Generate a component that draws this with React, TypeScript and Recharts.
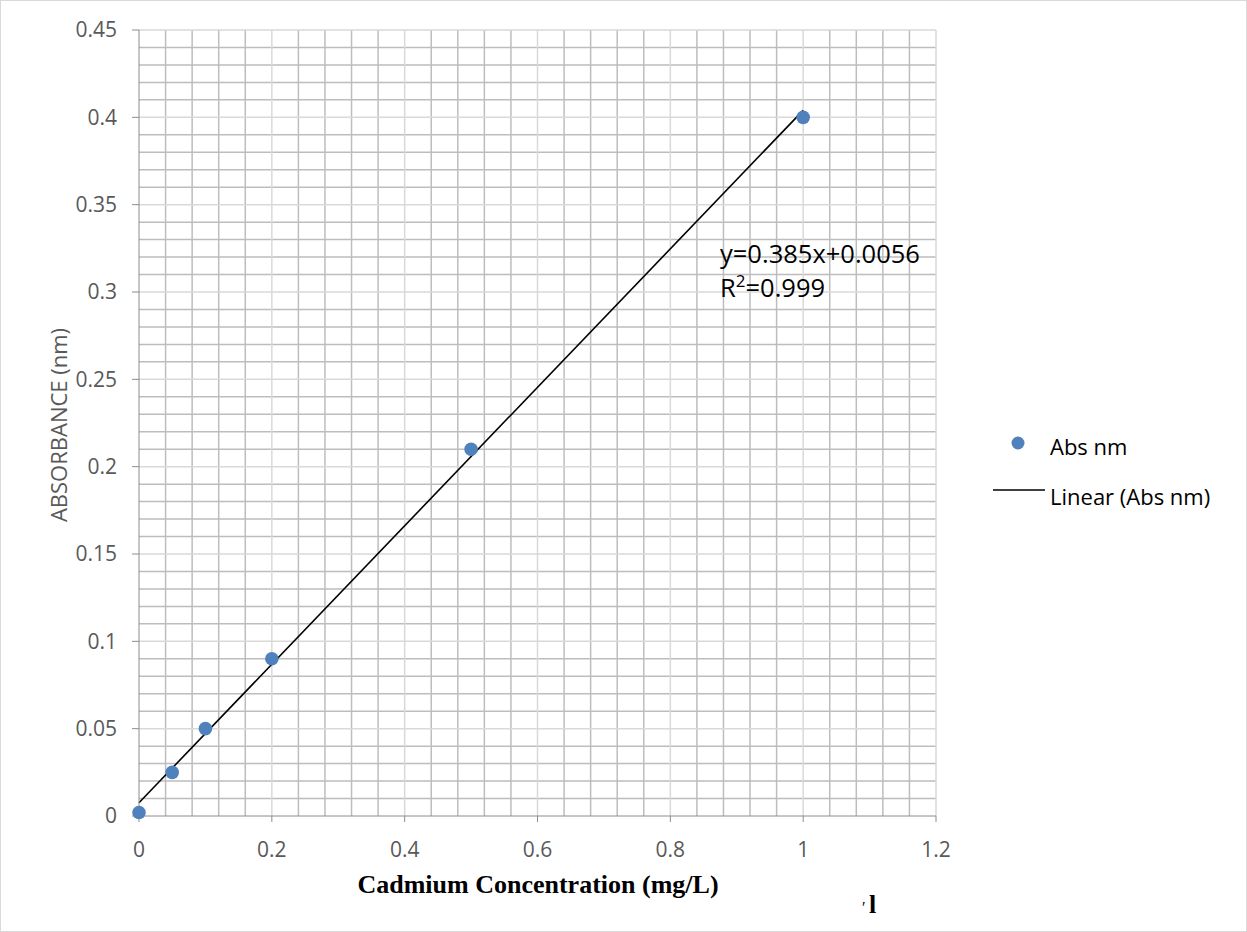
import React from "react";
import {
  ComposedChart,
  Scatter,
  Line,
  XAxis,
  YAxis,
  ReferenceLine,
} from "recharts";

// Data
const concentrations = [0, 0.05, 0.1, 0.2, 0.5, 1];
const absorbances = [0.002, 0.025, 0.05, 0.09, 0.21, 0.4];
const trendX = [0, 1];
const trendY = [0.0076, 0.404];

const xTicks = [0, 0.2, 0.4, 0.6, 0.8, 1, 1.2];
const yTicks = [0, 0.05, 0.1, 0.15, 0.2, 0.25, 0.3, 0.35, 0.4, 0.45];

// minor grid: x every 0.04, y every 0.01 (excluding major ticks)
const xMinor = Array.from({ length: 31 }, (_, i) => Math.round(i * 4) / 100).filter(
  (v) => Math.round(v * 100) % 20 !== 0
);
const yMinor = Array.from({ length: 46 }, (_, i) => i / 100).filter(
  (v) => Math.round(v * 100) % 5 !== 0
);

const scatterData = concentrations.map((x, i) => ({ x, y: absorbances[i] }));
const trendData = trendX.map((x, i) => ({ x, y: trendY[i] }));

const W = 1247;
const H = 932;
const FONT = "'Open Sans', 'Noto Sans', sans-serif";
const TICK_COLOR = "#595959";
const AXIS_COLOR = "#8c8c8c";
const MINOR = "#bdbdbd";
const MAJOR = "#d9d9d9";

const Dot = (props: any) => {
  const { cx, cy } = props;
  return <circle cx={cx} cy={cy} r={6.8} fill="#4f81bd" />;
};

export default function App() {
  return (
    <div
      style={{
        position: "absolute",
        left: 0,
        top: 0,
        width: W,
        height: H,
        background: "#fff",
      }}
    >
      <ComposedChart
        width={W}
        height={H}
        margin={{ top: 30, right: 311, bottom: 56, left: 79 }}
      >
        <XAxis
          type="number"
          dataKey="x"
          domain={[0, 1.2]}
          ticks={xTicks}
          height={60}
          tickSize={6}
          tickMargin={20}
          stroke={AXIS_COLOR}
          tick={{ fill: TICK_COLOR, fontSize: 21, fontFamily: FONT }}
          tickFormatter={(v: number) => String(v)}
        />
        <YAxis
          type="number"
          dataKey="y"
          domain={[0, 0.45]}
          ticks={yTicks}
          width={60}
          tickSize={7}
          tickMargin={15}
          stroke={AXIS_COLOR}
          tick={{ fill: TICK_COLOR, fontSize: 21, fontFamily: FONT }}
          tickFormatter={(v: number) => String(v)}
        />
        {xMinor.map((v) => (
          <ReferenceLine key={"xm" + v} x={v} stroke={MINOR} strokeWidth={1.5} />
        ))}
        {yMinor.map((v) => (
          <ReferenceLine key={"ym" + v} y={v} stroke={MINOR} strokeWidth={1.5} />
        ))}
        {xTicks.slice(1).map((v) => (
          <ReferenceLine key={"xM" + v} x={v} stroke={MAJOR} strokeWidth={1.5} />
        ))}
        {yTicks.slice(1).map((v) => (
          <ReferenceLine key={"yM" + v} y={v} stroke={MAJOR} strokeWidth={1.5} />
        ))}
        <Line
          data={trendData}
          dataKey="y"
          type="linear"
          stroke="#000"
          strokeWidth={1.6}
          dot={false}
          activeDot={false}
          isAnimationActive={false}
          name="Linear (Abs nm)"
        />
        <Scatter
          data={scatterData}
          dataKey="y"
          shape={<Dot />}
          isAnimationActive={false}
          name="Abs nm"
        />
      </ComposedChart>
      <svg
        width={W}
        height={H}
        style={{ position: "absolute", left: 0, top: 0, pointerEvents: "none" }}
      >
        <rect x={0.5} y={0.5} width={W - 1} height={H - 1} fill="none" stroke="#d9d9d9" />
        <text
          x={58}
          y={425}
          transform="rotate(-90 58 425)"
          textAnchor="middle"
          dominantBaseline="central"
          fontFamily={FONT}
          fontSize={22}
          fill={TICK_COLOR}
        >
          ABSORBANCE (nm)
        </text>
        <text
          x={538}
          y={893}
          textAnchor="middle"
          fontFamily="'Liberation Serif', 'Times New Roman', serif"
          fontWeight="bold"
          fontSize={26}
          fill="#000"
        >
          Cadmium Concentration (mg/L)
        </text>
        <text
          x={862}
          y={913}
          fontFamily="'Liberation Serif', serif"
          fontSize={16}
          fill="#000"
        >
          ′
        </text>
        <text
          x={869}
          y={913}
          fontFamily="'Liberation Serif', serif"
          fontWeight="bold"
          fontSize={26}
          fill="#000"
        >
          l
        </text>
        <text x={720} y={263} fontFamily={FONT} fontSize={25.5} fill="#000">
          y=0.385x+0.0056
        </text>
        <text x={720} y={297} fontFamily={FONT} fontSize={25.5} fill="#000">
          R<tspan fontSize={17} dy={-10}>2</tspan>
          <tspan dy={10}>=0.999</tspan>
        </text>
        <circle cx={1018} cy={443} r={6.5} fill="#4f81bd" />
        <text x={1050} y={455} fontFamily={FONT} fontSize={22} fill="#000">
          Abs nm
        </text>
        <line x1={993} y1={490} x2={1045} y2={490} stroke="#000" strokeWidth={1.6} />
        <text x={1050} y={505} fontFamily={FONT} fontSize={22} fill="#000">
          Linear (Abs nm)
        </text>
      </svg>
    </div>
  );
}
